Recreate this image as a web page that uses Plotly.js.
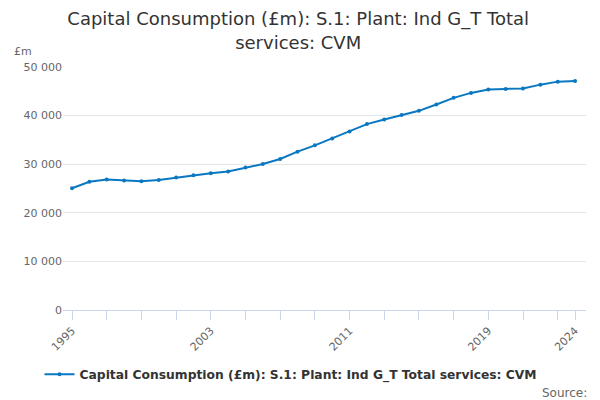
<!DOCTYPE html>
<html>
<head>
<meta charset="utf-8">
<script src="https://cdn.plot.ly/plotly-3.0.1.min.js"></script>
<style>
  body { margin: 0; }
  #myPlot { width: 600px; height: 400px; }
</style>
</head>
<body>
<div id="myPlot"></div>
<script>
// Data
const years = [1995, 1996, 1997, 1998, 1999, 2000, 2001, 2002, 2003, 2004,
  2005, 2006, 2007, 2008, 2009, 2010, 2011, 2012, 2013, 2014,
  2015, 2016, 2017, 2018, 2019, 2020, 2021, 2022, 2023, 2024];
const values = [25060, 26370, 26840, 26640, 26500, 26770, 27250, 27730, 28140, 28480,
  29300, 30050, 31080, 32580, 33880, 35310, 36750, 38250, 39200, 40100,
  40980, 42280, 43650, 44670, 45350, 45490, 45560, 46370, 46990, 47130];

const tickYears = [1995, 1997, 1999, 2001, 2003, 2005, 2007, 2009, 2011, 2013,
  2015, 2017, 2019, 2021, 2023, 2024];
const labelYears = [1995, 2003, 2011, 2019, 2024];

const seriesName = 'Capital Consumption (£m): S.1: Plant: Ind G_T Total services: CVM';

const data = [{
  x: years,
  y: values,
  name: seriesName,
  type: 'scatter',
  mode: 'lines+markers',
  line: {color: '#0a77c2', width: 2},
  marker: {color: '#0a77c2', size: 4}
}];

const layout = {
  width: 600,
  height: 400,
  font: {family: 'DejaVu Sans, sans-serif', color: '#666'},
  title: {
    text: 'Capital Consumption (£m): S.1: Plant: Ind G_T Total<br>services: CVM',
    font: {size: 18, color: '#333'},
    x: 0.497, xanchor: 'center', y: 0.937, yanchor: 'top'
  },
  margin: {l: 63, r: 14, t: 67, b: 89},
  separators: '. ',
  showlegend: true,
  legend: {
    orientation: 'h', x: 0.436, xanchor: 'center', y: -0.2, yanchor: 'top',
    font: {size: 12.3, color: '#333', weight: 'bold'}
  },
  xaxis: {
    range: [1994.48, 2024.63],
    tickvals: tickYears,
    ticktext: tickYears.map(v => labelYears.includes(v) ? String(v) : ''),
    tickangle: -45,
    ticks: 'outside', ticklen: 9, tickcolor: '#ccd6eb',
    showline: true, linecolor: '#ccd6eb',
    showgrid: false, zeroline: false,
    tickfont: {size: 11, color: '#666'}
  },
  yaxis: {
    range: [0, 50000],
    tickvals: [0, 10000, 20000, 30000, 40000, 50000],
    tickformat: ',d',
    gridcolor: '#e6e6e6',
    zeroline: false,
    tickfont: {size: 11, color: '#666'}
  },
  annotations: [
    {text: '£m', xref: 'paper', yref: 'paper', x: -0.098, y: 1.03,
      xanchor: 'left', yanchor: 'bottom', showarrow: false,
      font: {size: 11, color: '#666'}},
    {text: 'Source:', xref: 'paper', yref: 'paper', x: 1.006, y: -0.305,
      xanchor: 'right', yanchor: 'top', showarrow: false,
      font: {size: 12, color: '#666'}}
  ]
};

Plotly.newPlot('myPlot', data, layout, {displayModeBar: false});
</script>
</body>
</html>
